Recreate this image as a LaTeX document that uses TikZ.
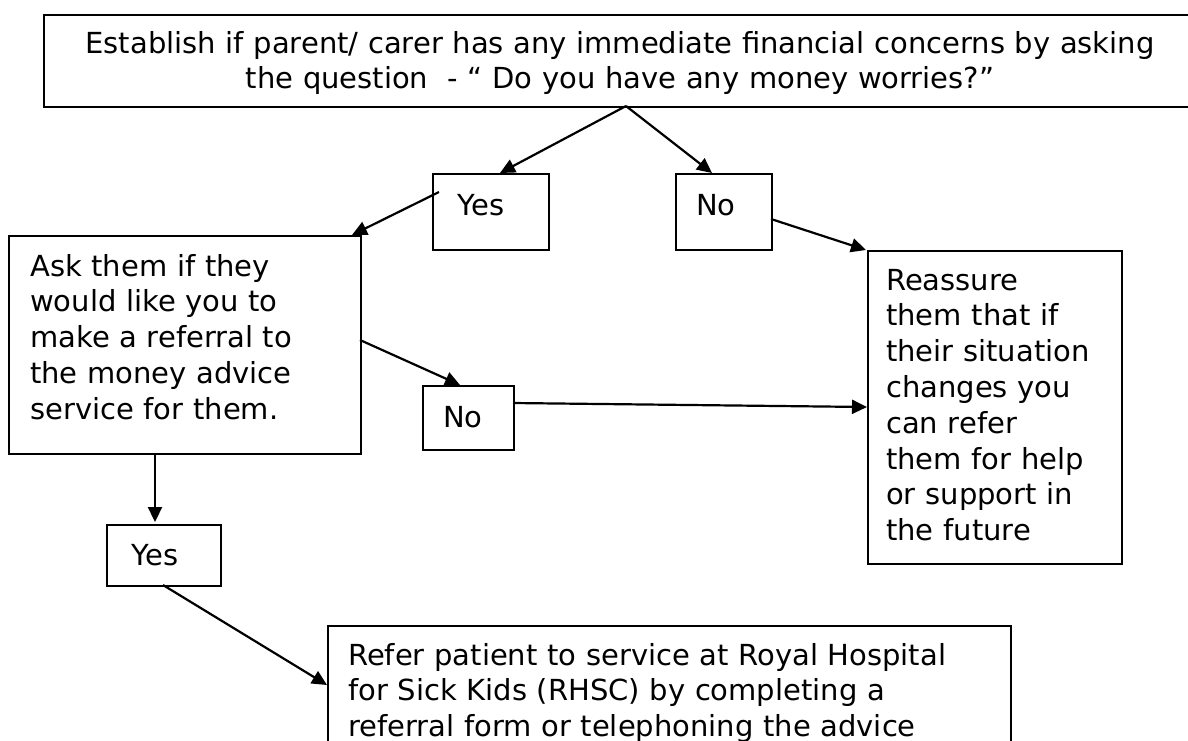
\documentclass[tikz,border=0pt]{standalone}
\usepackage{fontspec}
\setmainfont{DejaVu Sans}
\usetikzlibrary{arrows.meta}
\tikzset{
  box/.style={draw=black, line width=2.2pt, inner sep=0pt, anchor=north west},
  txt/.style={inner sep=0pt, anchor=base west, text width=#1, align=left,
    font=\fontsize{29}{35.8}\selectfont},
  ctxt/.style={inner sep=0pt, anchor=base, text width=#1, align=center,
    font=\fontsize{29}{35.8}\selectfont},
  arr/.style={line width=2.2pt, -{Triangle[length=15pt,width=14pt]}}
}
\begin{document}
\begin{tikzpicture}[x=1pt,y=-1pt]
\useasboundingbox (0,0) rectangle (1188,740);
\clip (0,0) rectangle (1188,740);
% boxes
\node[box, minimum width=1160, minimum height=92] (top) at (43,14) {};
\node[box, minimum width=116, minimum height=76] (yes1) at (432,173) {};
\node[box, minimum width=96, minimum height=76] (no1) at (675,173) {};
\node[box, minimum width=352, minimum height=218] (ask) at (8,235) {};
\node[box, minimum width=254, minimum height=313] (reas) at (867,250) {};
\node[box, minimum width=91, minimum height=64] (no2) at (422,385) {};
\node[box, minimum width=114, minimum height=61] (yes2) at (106,524) {};
\node[box, minimum width=683, minimum height=150] (refer) at (327,625) {};
% texts
\node[ctxt=1200] (toptxt) at (620,53) {Establish if parent/ carer has any immediate financial concerns by asking\\the question \ - “ Do you have any money worries?”};
\node[ctxt=100] (yes1txt) at (481,215) {Yes};
\node[ctxt=80] (no1txt) at (716,215) {No};
\node[txt=330] (asktxt) at (30,276) {Ask them if they\\would like you to\\make a referral to\\the money advice\\service for them.};
\node[txt=240] (reastxt) at (886,290) {Reassure\\them that if\\their situation\\changes you\\can refer\\them for help\\or support in\\the future};
\node[ctxt=80] (no2txt) at (463,427) {No};
\node[ctxt=100] (yes2txt) at (155,565) {Yes};
\node[txt=660] (refertxt) at (348,665) {Refer patient to service at Royal Hospital\\for Sick Kids (RHSC) by completing a\\referral form or telephoning the advice};
% connector end points on box borders
\coordinate (topout) at (626,106);
\coordinate (yes1in) at (500,173);
\coordinate (no1in) at (712,173);
\coordinate (yes1out) at (439,192);
\coordinate (askin) at (352,235);
\coordinate (no1out) at (771,219);
\coordinate (reasin1) at (866,250);
\coordinate (askout1) at (360,340);
\coordinate (no2in) at (460,385);
\coordinate (no2out) at (513,403);
\coordinate (reasin2) at (867,407);
\coordinate (askout2) at (155,453);
\coordinate (yes2in) at (155,522);
\coordinate (yes2out) at (163,585);
\coordinate (referin) at (327,685);
% connectors
\draw[arr] (topout) -- (yes1in);
\draw[arr] (topout) -- (no1in);
\draw[arr] (yes1out) -- (askin);
\draw[arr] (no1out) -- (reasin1);
\draw[arr] (askout1) -- (no2in);
\draw[arr] (no2out) -- (reasin2);
\draw[arr] (askout2) -- (yes2in);
\draw[arr] (yes2out) -- (referin);
\end{tikzpicture}
\end{document}
